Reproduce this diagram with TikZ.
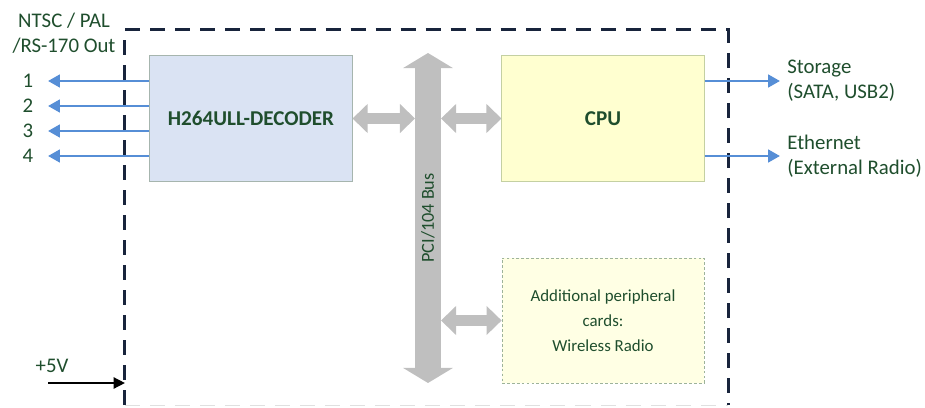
\documentclass[tikz,border=0pt]{standalone}
\usepackage{fontspec}
\setmainfont{Carlito}
\usetikzlibrary{arrows.meta,calc}
\definecolor{txtgreen}{RGB}{31,78,45}
\definecolor{boardnavy}{RGB}{24,36,60}
\definecolor{sigblue}{RGB}{86,142,214}
\definecolor{busgray}{RGB}{191,191,191}
\definecolor{decfill}{RGB}{218,227,243}
\definecolor{decline}{RGB}{166,181,174}
\definecolor{cpufill}{RGB}{255,255,208}
\definecolor{cpuline}{RGB}{196,208,162}
\definecolor{perfill}{RGB}{255,255,228}
\definecolor{perline}{RGB}{157,179,154}
\begin{document}
\begin{tikzpicture}[x=0.025cm,y=-0.025cm,
  lbl/.style={text=txtgreen,font=\fontsize{14.8}{18}\selectfont,inner sep=1pt},
  card/.style={minimum width=5.05cm,minimum height=3.125cm,text=txtgreen,line width=0.7pt},
  boardline/.style={draw=boardnavy,line width=2.2pt,dash pattern=on 10.7pt off 7.1pt},
  sig/.style={draw=sigblue,line width=1.9pt,-{Triangle[width=9pt,length=8.5pt]}},
  link/.style={draw=busgray,line width=8.5pt,{Triangle[width=20pt,length=10.7pt]}-{Triangle[width=20pt,length=10.7pt]}},
  busline/.style={draw=busgray,line width=17.8pt,{Triangle[width=34.9pt,length=10.7pt]}-{Triangle[width=34.9pt,length=10.7pt]}},
  pwrline/.style={draw=black,line width=1.1pt,-{Triangle[width=8pt,length=8pt]}}]
\useasboundingbox (0,0) rectangle (925,407);
% board outline
\node[minimum width=15.075cm,minimum height=9.375cm,outer sep=0pt] (board) at (426.5,217.5) {};
\draw[boardline] (board.south west) -- (board.north west) -- (board.north east) -- (board.south east);
\draw[black!12,line width=0.6pt,dash pattern=on 10.7pt off 7.1pt] (board.south west) -- (board.south east);
% cards
\node[card,fill=decfill,draw=decline,font=\bfseries\fontsize{15}{18}\selectfont] (dec) at (251,118.5) {H264ULL-DECODER};
\node[card,fill=cpufill,draw=cpuline,font=\bfseries\fontsize{15}{18}\selectfont] (cpu) at (603,118.5) {CPU};
\node[card,fill=perfill,draw=perline,line width=0.5pt,dash pattern=on 2pt off 1.5pt,align=center,font=\fontsize{12}{17.8}\selectfont] (per) at (603,320.5) {Additional peripheral\\cards:\\Wireless Radio};
% bus
\coordinate (bustop) at (428,53);\coordinate (busbot) at (428,383);\coordinate (busL) at (415,0);\coordinate (busR) at (441,0);
\draw[busline] (busbot) -- (bustop) node[midway,sloped,text=txtgreen,font=\fontsize{13}{15}\selectfont] (bus) {PCI/104 Bus};
\draw[link] (dec.east) -- (dec.east -| busL);\draw[link] (busR |- cpu.west) -- (cpu.west);\draw[link] (busR |- per.west) -- (per.west);
% outputs
\node[lbl,align=center] (vidout) at (64,33) {NTSC / PAL\\/RS-170 Out};
\foreach \n/\y in {1/81,2/106,3/131,4/156}{
  \node[lbl] (out\n) at (28,\y) {\n};
  \draw[sig] (dec.west |- out\n) -- ($(out\n)+(20,0)$);
}
\node[lbl,anchor=west,align=left,inner xsep=5pt] (stor) at (780,81) {Storage\\(SATA, USB2)};
\node[lbl,anchor=west,align=left,inner xsep=5pt] (eth) at (780,156) {Ethernet\\(External Radio)};
\draw[sig] (cpu.east |- stor.west) -- (stor.west);\draw[sig] (cpu.east |- eth.west) -- (eth.west);
% power
\node[lbl] (pwr) at (52,366) {+5V};\coordinate (vin) at (48,383);
\draw[pwrline] (vin) -- (vin -| board.west);
\end{tikzpicture}
\end{document}
